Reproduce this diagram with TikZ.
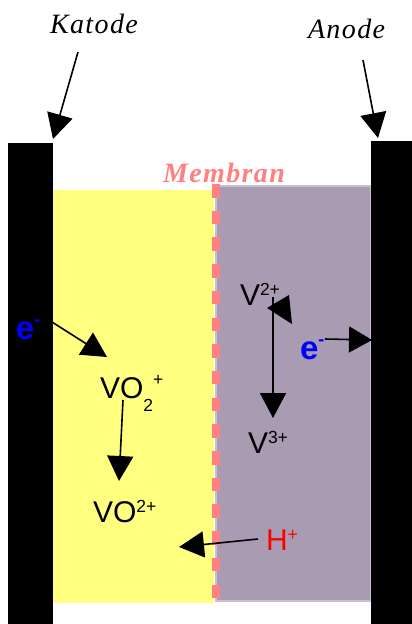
\documentclass[tikz,border=0pt]{standalone}
\usepackage{fontspec}
\setmainfont{Liberation Serif}
\newfontfamily\spacedserif[LetterSpace=5]{Liberation Serif}
\newfontfamily\arialf{Liberation Sans}
\usetikzlibrary{arrows.meta}
\definecolor{yel}{HTML}{FFFF80}
\definecolor{pur}{HTML}{A89BB2}
\definecolor{purb}{HTML}{C8C0D0}
\definecolor{memb}{HTML}{FF8080}
\newcommand\hsupx[2][10pt]{\raisebox{#1}{\fontsize{17.5}{17.5}\selectfont #2}}
\newcommand\hsubx[1]{\raisebox{-13pt}{\fontsize{17.5}{17.5}\selectfont #1}}
\begin{document}
\begin{tikzpicture}[x=1pt,y=-1pt,
  lbl/.style={inner sep=0pt,outer sep=0pt,anchor=base west},
  ital/.style={lbl,font=\spacedserif\fontsize{28}{28}\selectfont\itshape},
  chem/.style={lbl,font=\arialf\fontsize{30}{30}\selectfont},
  elec/.style={lbl,font=\arialf\bfseries\fontsize{33}{33}\selectfont,text=blue},
  arr/.style={line width=1.6pt,-{Triangle[length=25pt,width=26pt]}},
  electrode/.style={fill=black,draw=none,inner sep=0pt,anchor=north west,minimum width=45pt,minimum height=481pt}]
\useasboundingbox (0,0) rectangle (412,624);
% electrolytes
\fill[yel] (53,190) rectangle (214,603);
\filldraw[fill=pur,draw=purb,line width=1.5pt] (216,186) rectangle (371,601);
% membrane
\draw[memb,line width=8pt,dash pattern=on 13.5pt off 13.2pt] (216,184) -- (216,601);
% electrodes
\node[electrode,minimum width=45pt,minimum height=481pt] (cath) at (8,143) {};
\node[electrode,minimum width=41pt,minimum height=483pt] (anod) at (371,141) {};
% labels
\node[ital] (katode) at (50,33) {Katode};
\node[ital] (anode) at (308,38) {Anode};
\node[ital,font=\spacedserif\fontsize{28}{28}\selectfont\bfseries\itshape,text=memb] (membran) at (163,182) {Membran};
\node[elec] (eL) at (16,339) {e\raisebox{14pt}{\fontsize{18}{18}\selectfont -}};
\node[elec] (eR) at (300,359) {e\raisebox{14pt}{\fontsize{18}{18}\selectfont -}};
\node[chem] (vo2p) at (100,398) {VO\hsubx{2}\hsupx[13pt]{+}};
\node[chem] (vo2pp) at (93,522) {VO\hsupx{2+}};
\node[chem] (v2) at (240,305) {V\hsupx{2+}};
\node[chem] (v3) at (248,453) {V\hsupx{3+}};
\node[chem,text=red] (hp) at (266,550) {H\hsupx{+}};
% arrow end points
\coordinate (kS) at (78,52);   \coordinate (kT) at (53,139);
\coordinate (aS) at (363,60);  \coordinate (aT) at (378,138);
\coordinate (eLS) at (52,322); \coordinate (eLT) at (107,357);
\coordinate (voS) at (123,400);\coordinate (voT) at (119,481);
\coordinate (vS) at (273,297); \coordinate (vT) at (273,418);
\coordinate (eRS) at (325,339);\coordinate (eRT) at (372,340);
\coordinate (hS) at (258,539); \coordinate (hT) at (179,547);
% arrows
\draw[arr] (kS) -- (kT);
\draw[arr] (aS) -- (aT);
\draw[arr] (eLS) -- (eLT);
\draw[arr] (voS) -- (voT);
\draw[arr] (vS) -- (vT);
\draw[arr,-{Triangle[length=23pt,width=26pt]}] (eRS) -- (eRT);
\draw[arr] (hS) -- (hT);
\fill (267,308) -- (289,295) -- (292,324) -- cycle;
\end{tikzpicture}
\end{document}
